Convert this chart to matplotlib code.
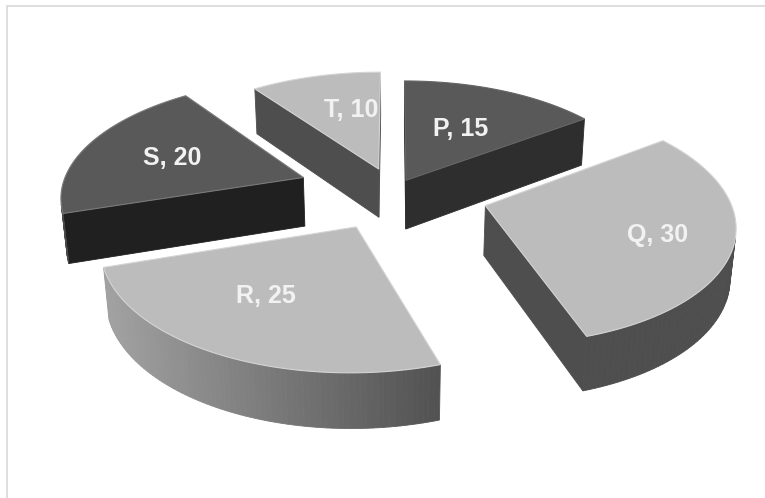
import numpy as np
import matplotlib
matplotlib.use('Agg')
from matplotlib import pyplot as plt
from matplotlib.patches import Polygon, Rectangle

names = ['P', 'Q', 'R', 'S', 'T']
values = [15, 30, 25, 20, 10]

# how far every slice is pulled out, in units of the radius
explode = [0.11, 0.39, 0.33, 0.40, 0.21]

top_colors = ['#595959', '#bcbcbc', '#bcbcbc', '#595959', '#bcbcbc']
edge_colors = ['#666666', '#d4d4d4', '#d4d4d4', '#7a7a7a', '#d4d4d4']
cut_colors = ['#2e2e2e', '#4e4e4e', '#6a6a6a', '#202020', '#4e4e4e']
wall_left = ['#2e2e2e', '#4e4e4e', '#a2a2a2', '#4a4a4a', '#4e4e4e']
wall_right = ['#2e2e2e', '#4e4e4e', '#525252', '#202020', '#4e4e4e']
label_xy = [(461, 129), (658, 235), (266, 296), (172, 158), (351, 110)]
draw_order = [4, 0, 3, 1, 2]

# camera of the 3d pie
cx, cy = 394, 191.5
tilt = np.radians(28.5)
dist = 6.5
focal = 1575
height = 0.235


def project(x, y, z):
    w = dist + y*np.cos(tilt) - z*np.sin(tilt)
    v = y*np.sin(tilt) + z*np.cos(tilt)
    return cx + focal*x/w, cy - focal*v/w


def faces_camera(nx, ny, px, py):
    cam_y = -dist*np.cos(tilt)
    return nx*(0 - px) + ny*(cam_y - py) > 0


def mix(c1, c2, t):
    a = np.array(matplotlib.colors.to_rgb(c1))
    b = np.array(matplotlib.colors.to_rgb(c2))
    return tuple(a + (b - a)*t)


def side(ax, xs, ys, color):
    x1, y1 = project(xs, ys, 0)
    x2, y2 = project(xs, ys, -height)
    pts = [(x1[0], y1[0]), (x1[1], y1[1]), (x2[1], y2[1]), (x2[0], y2[0])]
    ax.add_patch(Polygon(pts, closed=True, fc=color, ec=color, lw=0.6))


fig = plt.figure(figsize=(7.65, 4.98), dpi=100)
ax = fig.add_axes([0, 0, 1, 1])
ax.set_xlim(0, 765)
ax.set_ylim(498, 0)
ax.axis('off')

ax.add_patch(Rectangle((7.5, 5.5), 800, 600, fc='white', ec='#d9d9d9', lw=1.2))

stops = np.cumsum([0] + values) / sum(values) * 2*np.pi

for i in draw_order:
    a0, a1 = stops[i], stops[i+1]
    mid = (a0 + a1)/2
    ox = explode[i]*np.sin(mid)
    oy = explode[i]*np.cos(mid)
    t = np.linspace(a0, a1, 80)
    xs = ox + np.sin(t)
    ys = oy + np.cos(t)

    # the two cut faces
    if faces_camera(-np.cos(a0), np.sin(a0), ox, oy):
        side(ax, np.array([ox, xs[0]]), np.array([oy, ys[0]]), cut_colors[i])
    if faces_camera(np.cos(a1), -np.sin(a1), ox, oy):
        side(ax, np.array([ox, xs[-1]]), np.array([oy, ys[-1]]), cut_colors[i])

    # outer wall, strip by strip so it can carry the gradient
    sx, _ = project(xs, ys, 0)
    for k in range(len(t) - 1):
        tm = (t[k] + t[k+1])/2
        if faces_camera(np.sin(tm), np.cos(tm), xs[k], ys[k]):
            f = (sx[k] - sx.min())/(sx.max() - sx.min())
            side(ax, xs[k:k+2], ys[k:k+2], mix(wall_left[i], wall_right[i], f))

    # top of the slice
    px, py = project(np.r_[ox, xs], np.r_[oy, ys], 0)
    ax.add_patch(Polygon(np.c_[px, py], closed=True, fc=top_colors[i],
                         ec=edge_colors[i], lw=0.8, joinstyle='round'))

for i in range(len(names)):
    ax.text(label_xy[i][0], label_xy[i][1], '%s, %d' % (names[i], values[i]),
            family='Liberation Sans', weight='bold', fontsize=18,
            color='#f2f2f2', ha='center', va='center')

fig.savefig('out.png', dpi=100)
